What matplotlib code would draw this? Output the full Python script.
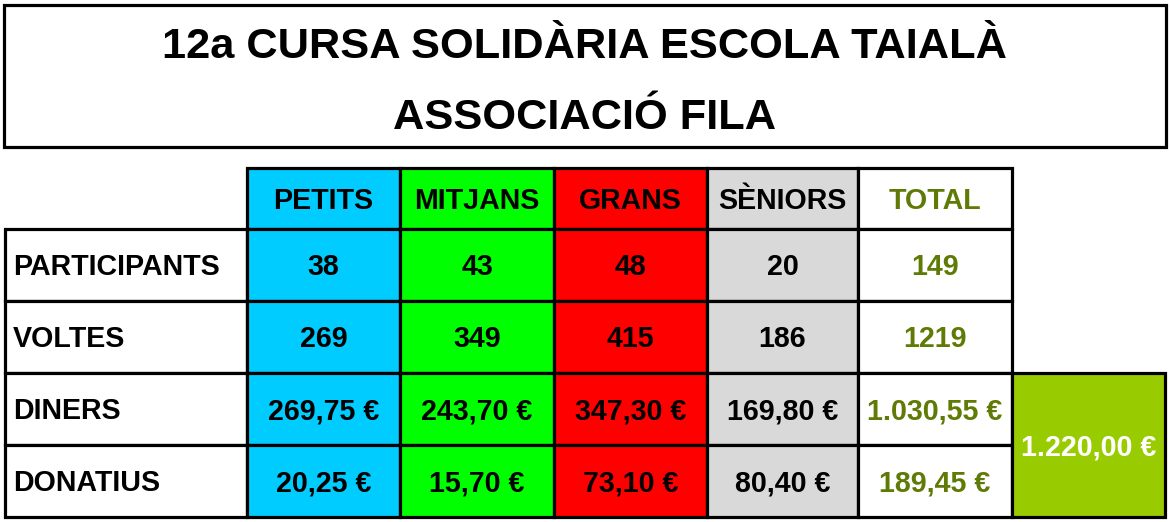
import matplotlib
matplotlib.use("Agg")
import matplotlib.pyplot as plt
from matplotlib.patches import Rectangle

# ---- data ----
title_lines = ["12a CURSA SOLIDÀRIA ESCOLA TAIALÀ", "ASSOCIACIÓ FILA"]
categories = ["PETITS", "MITJANS", "GRANS", "SÈNIORS", "TOTAL"]
row_labels = ["PARTICIPANTS", "VOLTES", "DINERS", "DONATIUS"]
participants = ["38", "43", "48", "20", "149"]
voltes = ["269", "349", "415", "186", "1219"]
diners = ["269,75 €", "243,70 €", "347,30 €", "169,80 €", "1.030,55 €"]
donatius = ["20,25 €", "15,70 €", "73,10 €", "80,40 €", "189,45 €"]
grand_total = "1.220,00 €"

# ---- style ----
col_colors = ["#00CCFF", "#00FF00", "#FF0000", "#D9D9D9", "#FFFFFF"]
total_text = "#5F7A05"
green_cell = "#99CC00"
FONT = "Liberation Sans"
W, H = 1170, 522
col_edges = [5, 247, 400, 554, 707, 858, 1012, 1165]
row_edges = [168, 229, 301, 373, 445, 517]
LW = 2.3
FS = 20.6
FS_T = 31.2
px_per_pt = 100 / 72

fig = plt.figure(figsize=(W / 100, H / 100), dpi=100)
ax = fig.add_axes([0, 0, 1, 1])
ax.set_xlim(0, W)
ax.set_ylim(H, 0)
ax.axis("off")

def cap_base(yc, fs):
    return yc + 0.716 * fs * px_per_pt / 2

# Title box
ax.add_patch(Rectangle((4, 5), 1162, 142, fill=False, edgecolor="black", lw=LW))
for yc, line in zip([42, 113], title_lines):
    ax.text(W / 2, cap_base(yc, FS_T), line, ha="center", va="baseline",
            fontsize=FS_T, fontweight="bold", family=FONT, color="black")

rows = [participants, voltes, diners, donatius]

# Header row
for j, cat in enumerate(categories):
    x0, x1 = col_edges[j + 1], col_edges[j + 2]
    y0, y1 = row_edges[0], row_edges[1]
    ax.add_patch(Rectangle((x0, y0), x1 - x0, y1 - y0, facecolor=col_colors[j],
                           edgecolor="black", lw=LW))
    ax.text((x0 + x1) / 2, cap_base((y0 + y1) / 2, FS), cat, ha="center", va="baseline",
            fontsize=FS, fontweight="bold", family=FONT,
            color=total_text if j == 4 else "black")

# Body rows
for i, (lab, vals) in enumerate(zip(row_labels, rows)):
    y0, y1 = row_edges[i + 1], row_edges[i + 2]
    yc = (y0 + y1) / 2
    ax.add_patch(Rectangle((col_edges[0], y0), col_edges[1] - col_edges[0], y1 - y0,
                           facecolor="white", edgecolor="black", lw=LW))
    ax.text(col_edges[0] + 8, cap_base(yc, FS), lab, ha="left", va="baseline",
            fontsize=FS, fontweight="bold", family=FONT, color="black")
    for j, v in enumerate(vals):
        x0, x1 = col_edges[j + 1], col_edges[j + 2]
        ax.add_patch(Rectangle((x0, y0), x1 - x0, y1 - y0, facecolor=col_colors[j],
                               edgecolor="black", lw=LW))
        ax.text((x0 + x1) / 2, cap_base(yc, FS), v, ha="center", va="baseline",
                fontsize=FS, fontweight="bold", family=FONT,
                color=total_text if j == 4 else "black")

# Grand total merged cell
x0, x1 = col_edges[6], col_edges[7]
y0, y1 = row_edges[3], row_edges[5]
ax.add_patch(Rectangle((x0, y0), x1 - x0, y1 - y0, facecolor=green_cell,
                       edgecolor="black", lw=LW))
ax.text((x0 + x1) / 2, cap_base((y0 + y1) / 2, FS), grand_total, ha="center",
        va="baseline", fontsize=FS, fontweight="bold", family=FONT, color="white")

fig.savefig("out.png", dpi=100)
